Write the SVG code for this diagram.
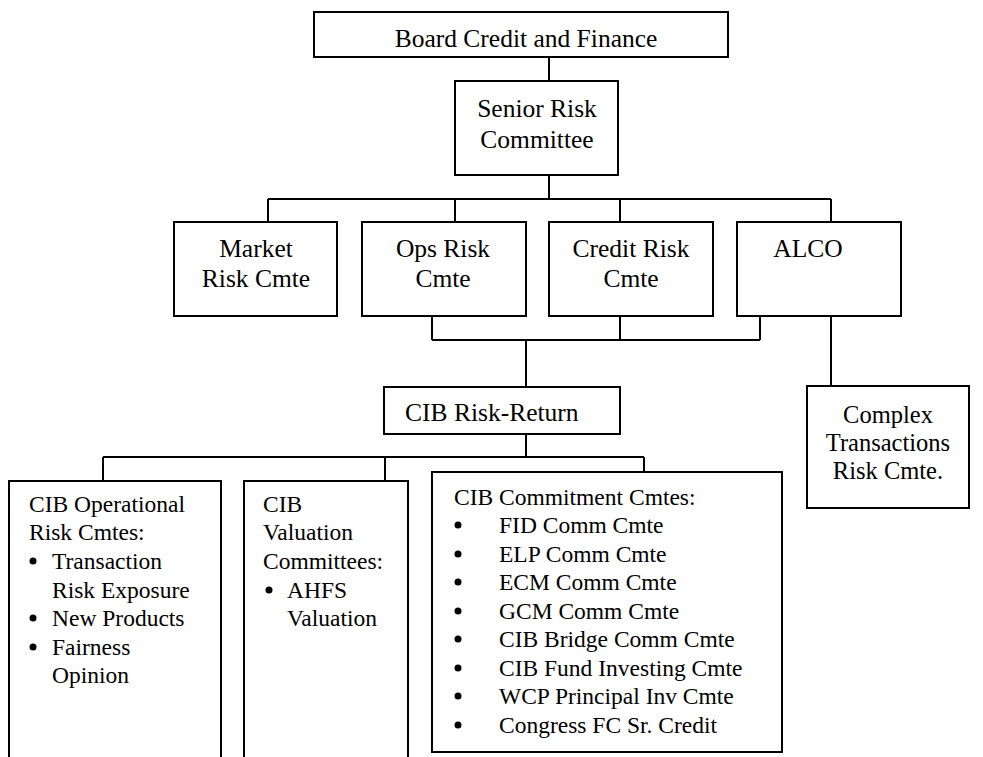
<svg xmlns="http://www.w3.org/2000/svg" width="983" height="757" viewBox="0 0 983 757" font-family="'Liberation Serif', 'DejaVu Serif', serif">
  <style>
    .box { fill: #ffffff; stroke: #000000; stroke-width: 2; }
    .open { fill: none; stroke: #000000; stroke-width: 2; }
    .wire { fill: none; stroke: #000000; stroke-width: 2; }
    text { font-family: 'Liberation Serif', 'DejaVu Serif', serif; fill: #000000; }
    .t { font-size: 25.5px; text-anchor: middle; }
    .l { font-size: 23.5px; }
    .dot { fill: #000000; }
  </style>
  <rect width="983" height="757" fill="#ffffff"/>

  <!-- connectors -->
  <g id="connectors">
    <path class="wire" d="M549,57 V81"/>
    <path class="wire" d="M549,175 V199 M268,199 H831 M268,199 V222 M455,199 V222 M620,199 V222 M831,199 V222"/>
    <path class="wire" d="M432,316 V340 M620,316 V340 M760,316 V340 M432,340 H760 M526,340 V387"/>
    <path class="wire" d="M831,316 V386"/>
    <path class="wire" d="M526,434 V457 M103,457 H644 M103,457 V481 M385,457 V481 M644,457 V482"/>
  </g>

  <g id="board">
    <rect class="box" x="314" y="12" width="414" height="45"/>
    <text class="t" x="526" y="47">Board Credit and Finance</text>
  </g>

  <g id="senior-risk">
    <rect class="box" x="455" y="81" width="163" height="94"/>
    <text class="t" x="537" y="117">Senior Risk</text>
    <text class="t" x="537" y="148">Committee</text>
  </g>

  <g id="market-risk">
    <rect class="box" x="174" y="222" width="163" height="94"/>
    <text class="t" x="256" y="257">Market</text>
    <text class="t" x="256" y="287">Risk Cmte</text>
  </g>

  <g id="ops-risk">
    <rect class="box" x="362" y="222" width="164" height="94"/>
    <text class="t" x="443" y="257">Ops Risk</text>
    <text class="t" x="443" y="287">Cmte</text>
  </g>

  <g id="credit-risk">
    <rect class="box" x="549" y="222" width="164" height="94"/>
    <text class="t" x="631" y="257">Credit Risk</text>
    <text class="t" x="631" y="287">Cmte</text>
  </g>

  <g id="alco">
    <rect class="box" x="737" y="222" width="164" height="94"/>
    <text class="t" x="808" y="257">ALCO</text>
  </g>

  <g id="cib-risk-return">
    <rect class="box" x="384" y="387" width="236" height="47"/>
    <text x="405" y="421" style="font-size:25.5px">CIB Risk-Return</text>
  </g>

  <g id="complex-transactions">
    <rect class="box" x="807" y="386" width="162" height="122"/>
    <text class="t" x="888" y="423" style="font-size:24.5px">Complex</text>
    <text class="t" x="888" y="451" style="font-size:24.5px">Transactions</text>
    <text class="t" x="888" y="479" style="font-size:24.5px">Risk Cmte.</text>
  </g>

  <!-- left column boxes run off the bottom edge -->
  <g id="cib-operational">
    <path class="open" d="M9,770 V481 H221 V770"/>
    <text class="l" x="29" y="512">CIB Operational</text>
    <text class="l" x="29" y="540">Risk Cmtes:</text>
    <circle class="dot" cx="33" cy="561" r="3.5"/>
    <text class="l" x="52" y="569">Transaction</text>
    <text class="l" x="52" y="598">Risk Exposure</text>
    <circle class="dot" cx="33" cy="618" r="3.5"/>
    <text class="l" x="52" y="626">New Products</text>
    <circle class="dot" cx="33" cy="647" r="3.5"/>
    <text class="l" x="52" y="655">Fairness</text>
    <text class="l" x="52" y="683">Opinion</text>
  </g>

  <g id="cib-valuation">
    <path class="open" d="M244,770 V481 H408 V770"/>
    <text class="l" x="263" y="512">CIB</text>
    <text class="l" x="263" y="540">Valuation</text>
    <text class="l" x="263" y="569">Committees:</text>
    <circle class="dot" cx="269" cy="590" r="3.5"/>
    <text class="l" x="287" y="598">AHFS</text>
    <text class="l" x="287" y="626">Valuation</text>
  </g>

  <g id="cib-commitment">
    <rect class="box" x="432" y="472" width="350" height="280"/>
    <text class="l" x="454" y="505">CIB Commitment Cmtes:</text>
    <circle class="dot" cx="458" cy="525" r="3.5"/>
    <text class="l" x="499" y="533">FID Comm Cmte</text>
    <circle class="dot" cx="458" cy="554" r="3.5"/>
    <text class="l" x="499" y="562">ELP Comm Cmte</text>
    <circle class="dot" cx="458" cy="582" r="3.5"/>
    <text class="l" x="499" y="590">ECM Comm Cmte</text>
    <circle class="dot" cx="458" cy="611" r="3.5"/>
    <text class="l" x="499" y="619">GCM Comm Cmte</text>
    <circle class="dot" cx="458" cy="639" r="3.5"/>
    <text class="l" x="499" y="647">CIB Bridge Comm Cmte</text>
    <circle class="dot" cx="458" cy="668" r="3.5"/>
    <text class="l" x="499" y="676">CIB Fund Investing Cmte</text>
    <circle class="dot" cx="458" cy="696" r="3.5"/>
    <text class="l" x="499" y="704">WCP Principal Inv Cmte</text>
    <circle class="dot" cx="458" cy="725" r="3.5"/>
    <text class="l" x="499" y="733">Congress FC Sr. Credit</text>
  </g>
</svg>
